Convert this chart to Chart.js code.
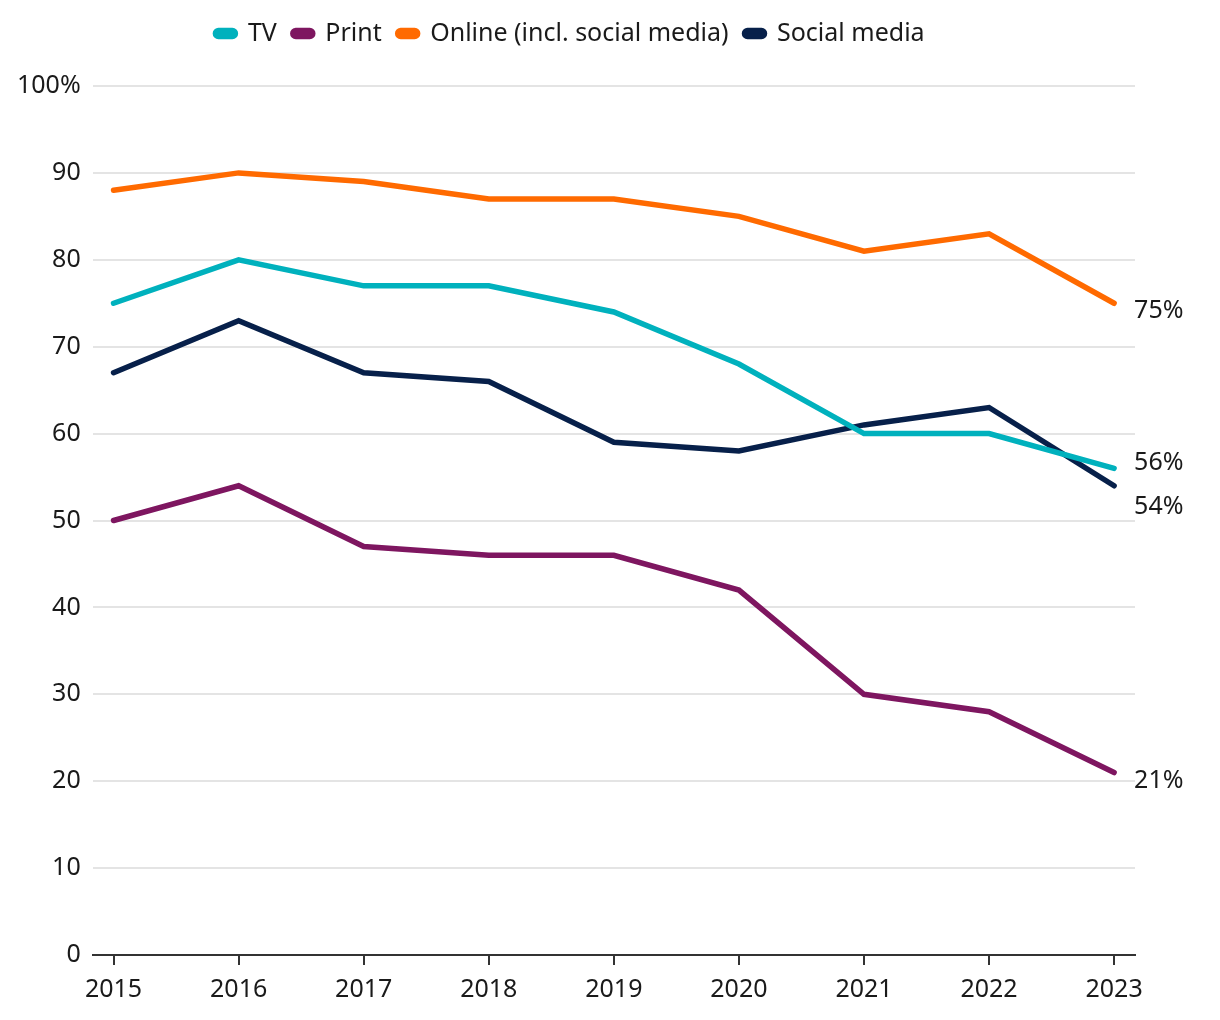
<!DOCTYPE html>
<html>
<head>
<meta charset="utf-8">
<script src="https://cdn.jsdelivr.net/npm/chart.js@4.4.1/dist/chart.umd.min.js"></script>
<style>
  html, body { margin: 0; padding: 0; background: #fff; }
  #wrap { width: 1220px; height: 1020px; }
</style>
</head>
<body>
<div id="wrap"><canvas id="myChart" width="1220" height="1020"></canvas></div>
<script>
// chart values
var years = [2015, 2016, 2017, 2018, 2019, 2020, 2021, 2022, 2023];
var tvValues = [75, 80, 77, 77, 74, 68, 60, 60, 56];
var printValues = [50, 54, 47, 46, 46, 42, 30, 28, 21];
var onlineValues = [88, 90, 89, 87, 87, 85, 81, 83, 75];
var socialValues = [67, 73, 67, 66, 59, 58, 61, 63, 54];
var yTicks = [0, 10, 20, 30, 40, 50, 60, 70, 80, 90, 100];

var seriesNames = ['TV', 'Print', 'Online (incl. social media)', 'Social media'];
var seriesColors = ['#00b1bd', '#7e1660', '#ff6a00', '#07204a'];

var fontFamily = '"Noto Sans", "Open Sans", sans-serif';
var fontSize = 25;

//turn a list of values into x/y points for the linear x axis
function toPoints(values) {
    return values.map(function(v, i) {
        return { x: years[i], y: v };
    });
}

function makeDataset(i, values) {
    return {
        label: seriesNames[i],
        data: toPoints(values),
        borderColor: seriesColors[i],
        backgroundColor: seriesColors[i],
        borderWidth: 5.5,
        pointRadius: 0,
        pointHoverRadius: 0,
        tension: 0,
        borderCapStyle: 'round'
    };
}

//plugin that adds some room under the legend
var legendMargin = {
    id: 'legendMargin',
    beforeInit: function(chart) {
        var fit = chart.legend.fit;
        chart.legend.fit = function() {
            fit.bind(chart.legend)();
            this.height += 30;
        };
    }
};

//plugin that writes the last value of each line to the right of the plot
var endLabels = {
    id: 'endLabels',
    afterDatasetsDraw: function(chart) {
        var ctx = chart.ctx;
        var items = [];
        chart.data.datasets.forEach(function(ds, i) {
            var meta = chart.getDatasetMeta(i);
            var last = meta.data[meta.data.length - 1];
            items.push({ text: ds.data[ds.data.length - 1].y + '%', x: last.x, y: last.y + 8 });
        });
        //push apart labels that sit too close to each other
        items.sort(function(a, b) { return a.y - b.y; });
        var minGap = 44;
        for (var k = 1; k < items.length; k++) {
            var gap = items[k].y - items[k - 1].y;
            if (gap < minGap) {
                var mid = (items[k].y + items[k - 1].y) / 2;
                items[k - 1].y = mid - minGap / 2;
                items[k].y = mid + minGap / 2;
            }
        }
        ctx.save();
        ctx.font = fontSize + 'px ' + fontFamily;
        ctx.fillStyle = '#1a1a1a';
        ctx.textAlign = 'left';
        ctx.textBaseline = 'middle';
        items.forEach(function(it) {
            ctx.fillText(it.text, it.x + 20, it.y);
        });
        ctx.restore();
    }
};

var ctx = document.getElementById('myChart');
var myChart = new Chart(ctx, {
    type: 'line',
    data: {
        datasets: [
            makeDataset(0, tvValues),
            makeDataset(1, printValues),
            makeDataset(2, onlineValues),
            makeDataset(3, socialValues)
        ]
    },
    options: {
        responsive: false,
        animation: false,
        layout: { padding: { left: 5, right: 85, top: 5, bottom: 5 } },
        plugins: {
            tooltip: { enabled: false },
            legend: {
                position: 'top',
                align: 'center',
                labels: {
                    color: '#1a1a1a',
                    font: { family: fontFamily, size: fontSize },
                    boxWidth: 20,
                    boxHeight: 6,
                    useBorderRadius: true,
                    borderRadius: 3,
                    padding: 16
                }
            }
        },
        scales: {
            x: {
                type: 'linear',
                min: 2014.833,
                max: 2023.167,
                afterBuildTicks: function(scale) {
                    scale.ticks = years.map(function(y) { return { value: y }; });
                },
                border: { display: true, color: '#333333', width: 2 },
                grid: {
                    drawOnChartArea: false,
                    drawTicks: true,
                    tickLength: 10,
                    color: '#333333',
                    lineWidth: 2
                },
                ticks: {
                    color: '#1a1a1a',
                    font: { family: fontFamily, size: fontSize },
                    padding: 10,
                    maxRotation: 0,
                    autoSkip: false,
                    callback: function(v) { return String(v); }
                }
            },
            y: {
                min: 0,
                max: 100,
                afterBuildTicks: function(scale) {
                    scale.ticks = yTicks.map(function(v) { return { value: v }; });
                },
                border: { display: false },
                grid: {
                    color: '#e4e4e4',
                    lineWidth: 2,
                    drawTicks: false
                },
                ticks: {
                    color: '#1a1a1a',
                    font: { family: fontFamily, size: fontSize },
                    padding: 12,
                    callback: function(v) { return v === 100 ? '100%' : v; }
                }
            }
        }
    },
    plugins: [legendMargin, endLabels]
});
</script>
</body>
</html>
